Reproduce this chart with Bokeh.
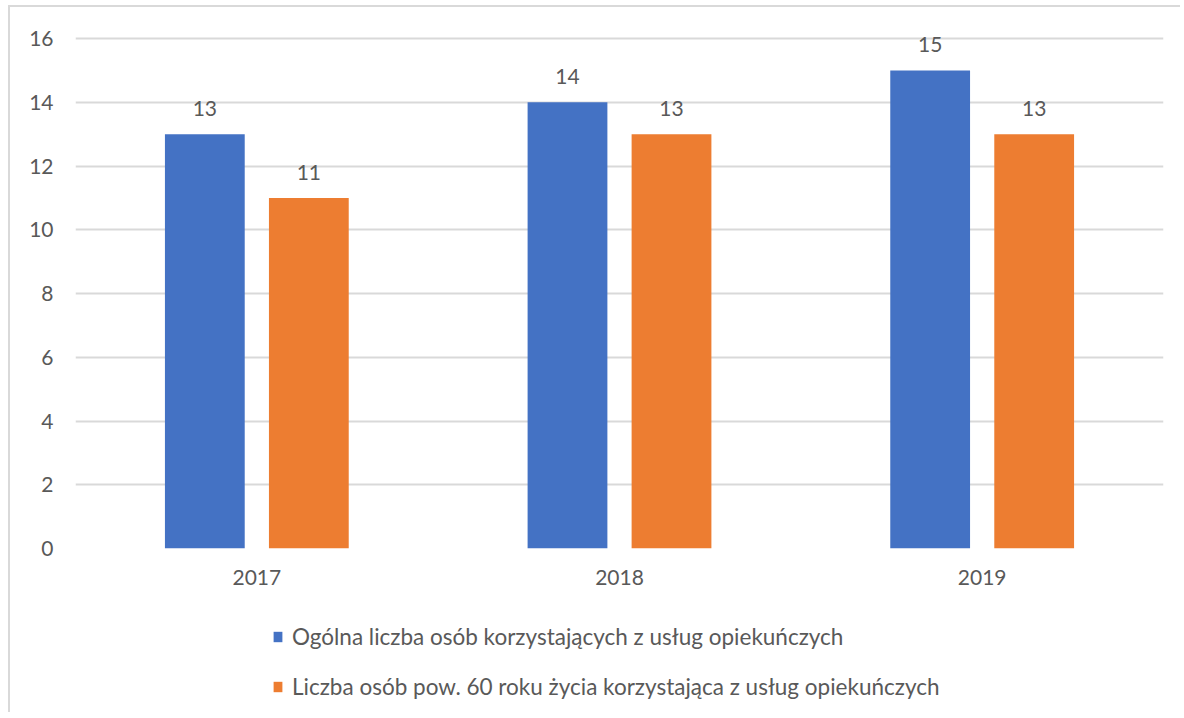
from bokeh.plotting import figure
from bokeh.models import ColumnDataSource, LabelSet, Legend, LegendItem, FactorRange, Range1d
from bokeh.layouts import column
from bokeh.transform import dodge
from bokeh.core.properties import value
from bokeh.embed import file_html
from bokeh.resources import INLINE

years = ["2017", "2018", "2019"]
ogolna = [13, 14, 15]
pow60 = [11, 13, 13]
series_names = [
    "Ogólna liczba osób korzystających z usług opiekuńczych",
    "Liczba osób pow. 60 roku życia korzystająca z usług opiekuńczych",
]
yticks = [0, 2, 4, 6, 8, 10, 12, 14, 16]

FONT = "Lato"
TXT = "#595959"
BLUE = "#4472C4"
ORANGE = "#ED7D31"

src = ColumnDataSource(dict(years=years, ogolna=ogolna, pow60=pow60,
                            lab1=[str(v) for v in ogolna], lab2=[str(v) for v in pow60]))

# y range slightly above 16 so that the data label of the tallest bar is not clipped
p = figure(x_range=FactorRange(*years), y_range=Range1d(0, 16.6), width=1170, height=593,
           output_backend="svg", toolbar_location=None,
           min_border_left=65, min_border_right=17, min_border_top=12, min_border_bottom=52)
p.outline_line_color = None
p.x_range.range_padding = 0

r1 = p.vbar(x=dodge("years", -0.1434, range=p.x_range), top="ogolna", width=0.22,
            source=src, fill_color=BLUE, line_color=None)
r2 = p.vbar(x=dodge("years", 0.1434, range=p.x_range), top="pow60", width=0.22,
            source=src, fill_color=ORANGE, line_color=None)

for col, lab, off in [("ogolna", "lab1", -0.1434), ("pow60", "lab2", 0.1434)]:
    ls = LabelSet(x=dodge("years", off, range=p.x_range), y=col, text=lab, source=src,
                  text_align="center", text_baseline="bottom", y_offset=18,
                  text_font=value(FONT), text_font_size="21px", text_color=TXT)
    p.add_layout(ls)

p.yaxis.ticker = yticks
p.ygrid.ticker = yticks
p.ygrid.grid_line_color = "#d9d9d9"
p.ygrid.grid_line_width = 2
p.xgrid.grid_line_color = None
for ax in (p.xaxis[0], p.yaxis[0]):
    ax.axis_line_color = None
    ax.major_tick_line_color = None
    ax.minor_tick_line_color = None
    ax.major_tick_out = 0
    ax.major_tick_in = 0
    ax.minor_tick_out = 0
    ax.major_label_text_font = FONT
    ax.major_label_text_font_size = "21px"
    ax.major_label_text_color = TXT
p.yaxis.major_label_standoff = 22
p.xaxis.major_label_standoff = 21

# legend panel below the chart (hidden copies of the bars provide the legend glyphs)
p2 = figure(width=1170, height=112, output_backend="svg", toolbar_location=None,
            x_range=FactorRange(*years), y_range=Range1d(0, 16),
            x_axis_location=None, y_axis_location=None,
            min_border_left=0, min_border_right=0, min_border_top=0, min_border_bottom=0)
p2.outline_line_color = None
p2.grid.visible = False
d1 = p2.vbar(x="years", top="ogolna", width=0.22, source=src, fill_color=BLUE,
             line_color=None, visible=False)
d2 = p2.vbar(x="years", top="pow60", width=0.22, source=src, fill_color=ORANGE,
             line_color=None, visible=False)

legend = Legend(items=[LegendItem(label=series_names[0], renderers=[d1]),
                       LegendItem(label=series_names[1], renderers=[d2])],
                location=(197, 12), orientation="vertical",
                glyph_width=11, glyph_height=13, label_height=27, spacing=23,
                padding=0, margin=0, label_standoff=9,
                label_text_font=FONT, label_text_font_size="22.5px", label_text_color=TXT,
                border_line_color=None, background_fill_alpha=0,
                inactive_fill_alpha=0)
p2.add_layout(legend, "center")

lay = column(p, p2, spacing=0)
lay.styles = {"border-left": "2px solid #d9d9d9", "border-top": "2px solid #d9d9d9",
              "margin-left": "8px", "margin-top": "5px"}

open("out.html", "w").write(file_html(lay, INLINE))
